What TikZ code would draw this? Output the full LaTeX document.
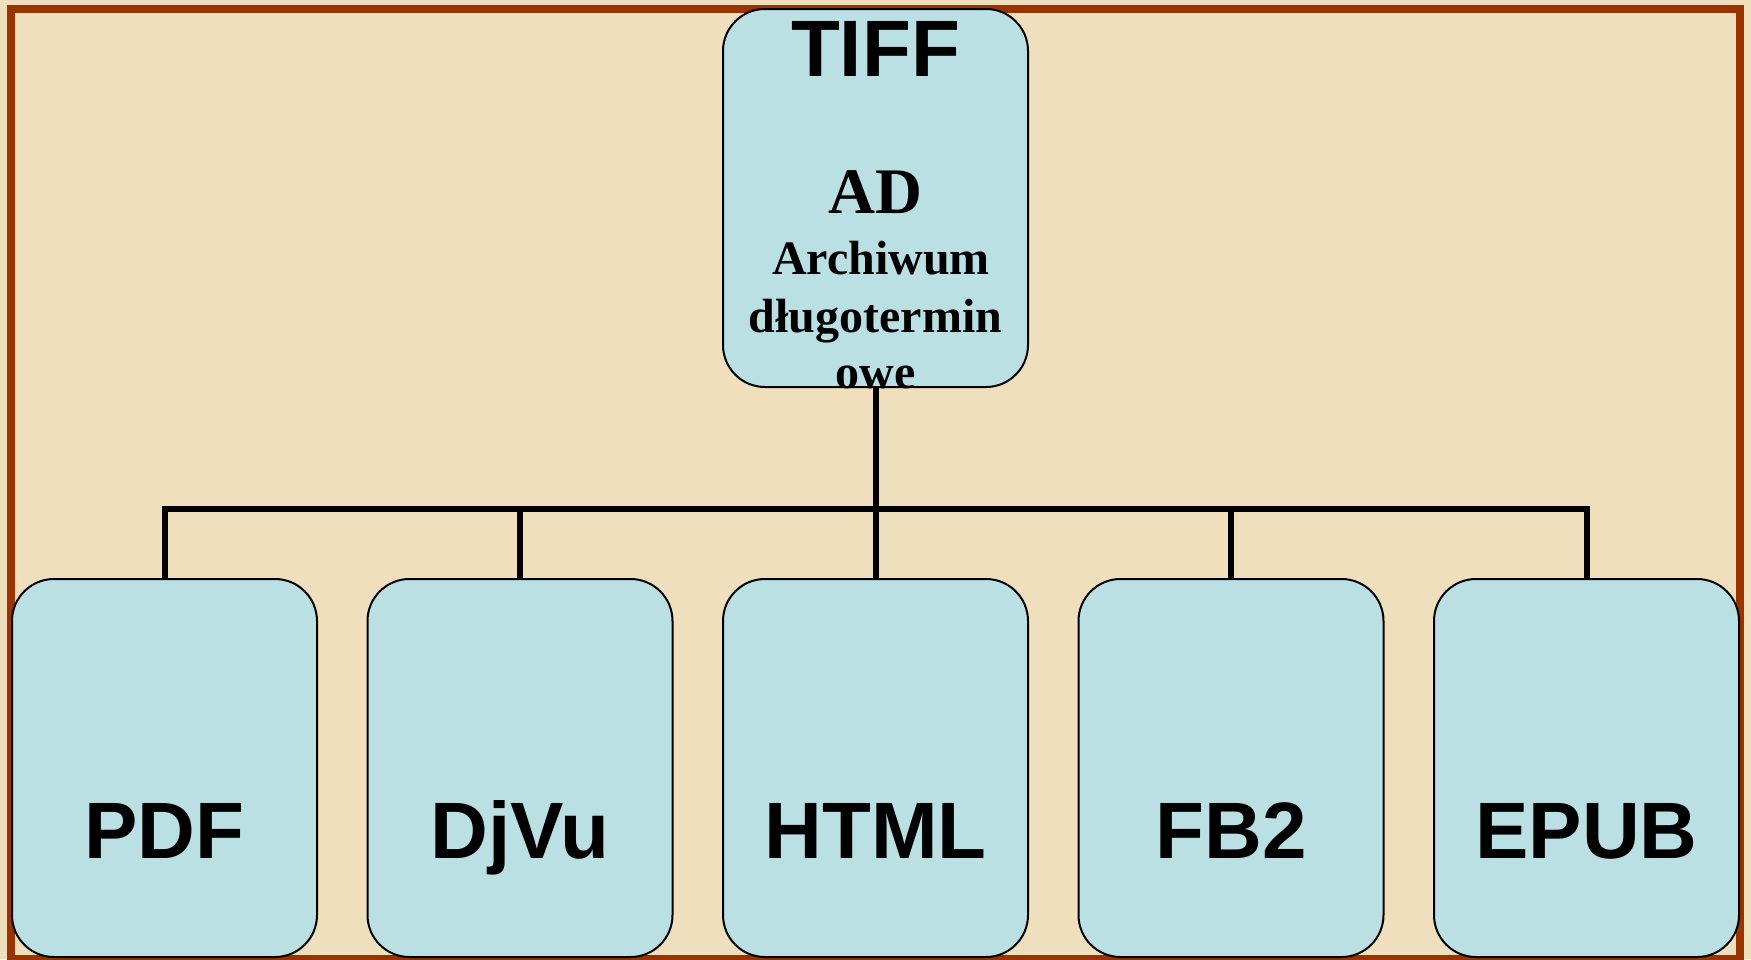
\documentclass[tikz,border=0pt]{standalone}
\usepackage{fontspec}
\setmainfont{Liberation Serif}
\newfontfamily\sansfam{Liberation Sans}
\definecolor{parch}{RGB}{240,223,188}
\definecolor{framebrown}{RGB}{153,51,0}
\definecolor{boxblue}{RGB}{186,224,228}
\begin{document}
\begin{tikzpicture}[x=0.5pt,y=-0.5pt,
  fmtbox/.style={draw=black, line width=1pt, fill=boxblue, rounded corners=21pt,
    minimum width=152.5pt, minimum height=189pt, inner sep=0pt},
  biglabel/.style={font=\sansfam\bfseries\fontsize{40}{40}\selectfont, anchor=base, inner sep=0pt},
  serlabel/.style={font=\bfseries\fontsize{24}{24}\selectfont, anchor=base, inner sep=0pt},
  adlabel/.style={font=\bfseries\fontsize{32.5}{32.5}\selectfont, anchor=base, inner sep=0pt},
  conn/.style={line width=3pt, draw=black, line join=miter}]
\useasboundingbox (0,0) rectangle (1751,959);
\fill[parch] (0,0) rectangle (1751,959);
\draw[line width=4pt, framebrown] (11,9) rectangle (1739.5,959);
% boxes
\node[fmtbox] (tiff) at (875.5,198) {};
\node[fmtbox] (pdf)  at (164.5,768) {};
\node[fmtbox] (djvu) at (520,768) {};
\node[fmtbox] (html) at (875.5,768) {};
\node[fmtbox] (fb2)  at (1231,768) {};
\node[fmtbox] (epub) at (1586.5,768) {};
% connectors
\coordinate (bus) at (875.5,508.5);
\draw[conn] (tiff.south) -- (bus);
\draw[conn] (pdf.north) |- (bus) -| (epub.north);
\draw[conn] (djvu.north) -- (djvu.north |- bus);
\draw[conn] (html.north) -- (html.north |- bus);
\draw[conn] (fb2.north) -- (fb2.north |- bus);
% texts
\node[biglabel] (tifft) at (875.5,76) {TIFF};
\node[adlabel] (adt) at (875.5,213) {AD};
\node[serlabel] (arch) at (881,274) {Archiwum};
\node[serlabel] (dlug) at (875.5,332) {długotermin};
\node[serlabel] (owe) at (875.5,388) {owe};
\node[biglabel] (pdft) at (164.5,858) {PDF};
\node[biglabel] (djvut) at (520,858) {DjVu};
\node[biglabel] (htmlt) at (875.5,858) {HTML};
\node[biglabel] (fb2t) at (1231,858) {FB2};
\node[biglabel] (epubt) at (1586.5,858) {EPUB};
\end{tikzpicture}
\end{document}
